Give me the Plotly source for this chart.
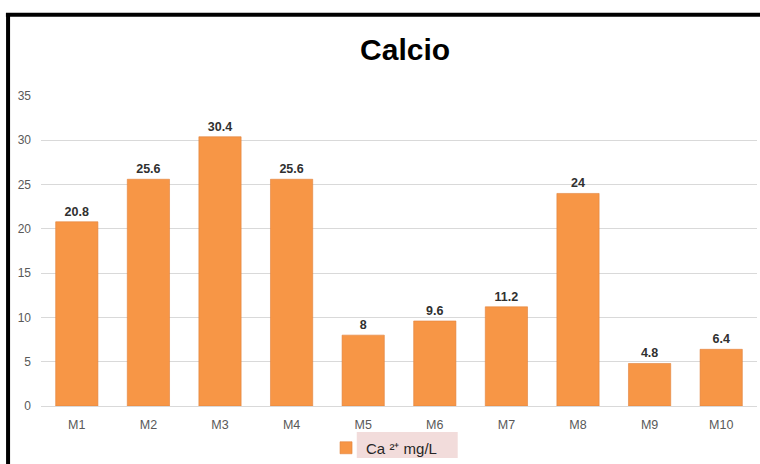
import plotly.graph_objects as go

# Calcium concentration per sampling point
samples = ["M1", "M2", "M3", "M4", "M5", "M6", "M7", "M8", "M9", "M10"]
calcium = [20.8, 25.6, 30.4, 25.6, 8, 9.6, 11.2, 24, 4.8, 6.4]
y_ticks = [0, 5, 10, 15, 20, 25, 30, 35]
series_name = "Ca ²⁺ mg/L"

BAR = "#F79646"
FONT = "Liberation Sans, Arial, sans-serif"

fig = go.Figure(
    go.Bar(
        x=samples,
        y=calcium,
        name=series_name,
        marker=dict(color=BAR, line=dict(color="#E0823A", width=0.6)),
        text=[f"<b>{v:g}</b>" for v in calcium],
        textposition="outside",
        textfont=dict(family=FONT, size=12.5, color="#303030"),
        cliponaxis=False,
        showlegend=True,
    )
)

fig.update_layout(
    width=760,
    height=464,
    margin=dict(l=41, r=3, t=96, b=58),
    paper_bgcolor="white",
    plot_bgcolor="white",
    font=dict(family=FONT, color="#595959"),
    bargap=0.41,
    title=dict(
        text="<b>Calcio</b>",
        x=0.533,
        xanchor="center",
        y=0.893,
        yanchor="middle",
        font=dict(family=FONT, size=30, color="black"),
    ),
    xaxis=dict(
        showline=False,
        ticks="",
        ticklabelstandoff=9,
        tickfont=dict(size=12.5, color="#595959"),
        showgrid=False,
        automargin=False,
    ),
    yaxis=dict(
        range=[0, 35],
        tickvals=y_ticks,
        showgrid=True,
        gridcolor="#D9D9D9",
        gridwidth=1,
        zeroline=True,
        zerolinecolor="#D9D9D9",
        zerolinewidth=1,
        ticks="",
        ticklabelstandoff=9,
        tickfont=dict(size=12, color="#595959"),
        automargin=False,
    ),
    legend=dict(
        orientation="h",
        xref="container",
        yref="container",
        x=0.429,
        xanchor="left",
        y=0.070,
        yanchor="top",
        bgcolor="rgba(0,0,0,0)",
        font=dict(family=FONT, size=15, color="#262626"),
    ),
    shapes=[
        # pink label panel behind the legend text
        dict(type="rect", xref="paper", yref="paper",
             x0=0.441, x1=0.582, y0=-0.168, y1=-0.084,
             fillcolor="#F2DCDB", line=dict(width=0), layer="below"),
        # black frame (top and left edges)
        dict(type="line", xref="paper", yref="paper",
             x0=-0.049, x1=1.01, y0=1.262, y1=1.262,
             line=dict(color="black", width=4)),
        dict(type="line", xref="paper", yref="paper",
             x0=-0.046, x1=-0.046, y0=1.268, y1=-0.2,
             line=dict(color="black", width=4)),
    ],
)

fig.write_html("out.html")
